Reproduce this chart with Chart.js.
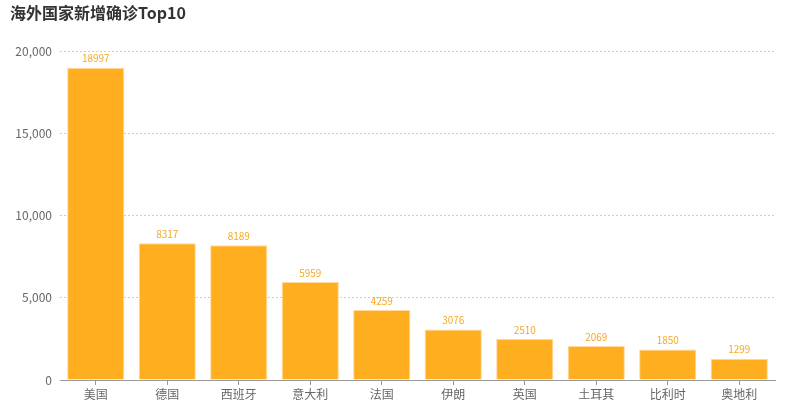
<!DOCTYPE html>
<html>
<head>
<meta charset="utf-8">
<script src="https://cdn.jsdelivr.net/npm/chart.js@4/dist/chart.umd.min.js"></script>
<style>
  html, body { margin: 0; padding: 0; background: #fff; }
  #wrap { width: 810px; height: 413px; position: relative; }
</style>
</head>
<body>
<div id="wrap"><canvas id="myChart"></canvas></div>
<script>
// 数据
const countries = ['美国', '德国', '西班牙', '意大利', '法国', '伊朗', '英国', '土耳其', '比利时', '奥地利'];
const newCases = [18997, 8317, 8189, 5959, 4259, 3076, 2510, 2069, 1850, 1299];
const yTicks = [0, 5000, 10000, 15000, 20000];

const fontFamily = '"Noto Sans CJK SC", "Open Sans", sans-serif';

// 柱子上方的数值
const valueLabels = {
    id: 'valueLabels',
    afterDatasetsDraw(chart) {
        const ctx = chart.ctx;
        const meta = chart.getDatasetMeta(0);
        ctx.save();
        ctx.font = '10px ' + fontFamily;
        ctx.fillStyle = '#F7A825';
        ctx.textAlign = 'center';
        ctx.textBaseline = 'bottom';
        meta.data.forEach((bar, i) => {
            ctx.fillText(newCases[i], bar.x, bar.y - 4);
        });
        ctx.restore();
    }
};

function init() {
    const ctx = document.getElementById('myChart').getContext('2d');
    new Chart(ctx, {
        type: 'bar',
        data: {
            labels: countries,
            datasets: [{
                label: '新增确诊',
                data: newCases,
                backgroundColor: '#FEAE1E',
                borderColor: '#FFD9A0',
                borderWidth: 1,
                barPercentage: 0.8,
                categoryPercentage: 1.0
            }]
        },
        options: {
            responsive: true,
            maintainAspectRatio: false,
            animation: false,
            layout: { padding: { left: 10, right: 35, top: 3, bottom: 0 } },
            plugins: {
                legend: { display: false },
                tooltip: { enabled: false },
                title: {
                    display: true,
                    text: '海外国家新增确诊Top10',
                    align: 'start',
                    color: '#333',
                    font: { family: fontFamily, size: 16, weight: 'bold' },
                    padding: { top: 0, bottom: 29 }
                }
            },
            scales: {
                x: {
                    grid: {
                        offset: false,
                        drawOnChartArea: false,
                        drawTicks: true,
                        tickLength: 5,
                        color: '#999'
                    },
                    border: { display: true, color: '#999' },
                    ticks: {
                        color: '#666',
                        font: { family: fontFamily, size: 12 },
                        padding: 2,
                        maxRotation: 0,
                        autoSkip: false
                    },
                    afterFit(scale) { scale.height = 33; }
                },
                y: {
                    min: 0,
                    max: 20000,
                    afterBuildTicks(scale) {
                        scale.ticks = yTicks.map(v => ({ value: v }));
                    },
                    grid: {
                        color: '#ccc',
                        drawTicks: false
                    },
                    border: { display: false, dash: [2, 2] },
                    ticks: {
                        color: '#666',
                        font: { family: fontFamily, size: 12 },
                        padding: 8,
                        callback: v => v.toLocaleString('en-US')
                    },
                    afterFit(scale) { scale.width = 50; }
                }
            }
        },
        plugins: [valueLabels]
    });
}

window.addEventListener('DOMContentLoaded', init);
</script>
</body>
</html>
